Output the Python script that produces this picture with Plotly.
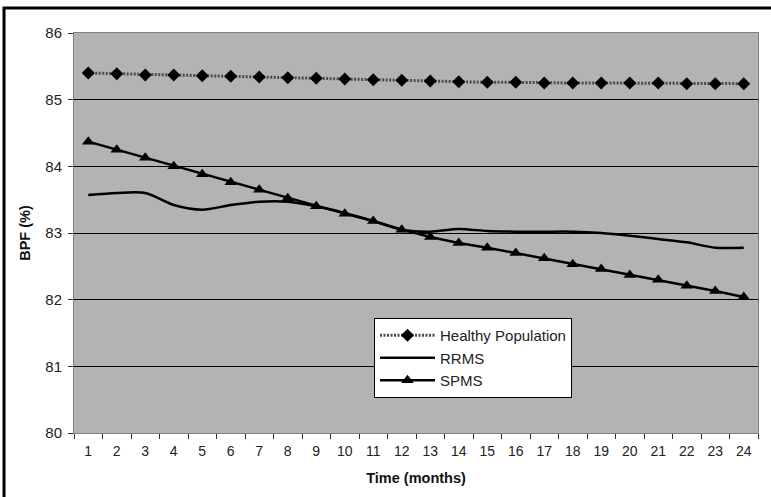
import plotly.graph_objects as go

months = [str(i) for i in range(1, 25)]
healthy = [85.40, 85.39, 85.37, 85.37, 85.36, 85.35, 85.34, 85.33, 85.32, 85.31, 85.30, 85.29,
           85.28, 85.27, 85.26, 85.26, 85.25, 85.25, 85.25, 85.25, 85.25, 85.24, 85.24, 85.24]
rrms = [83.57, 83.60, 83.60, 83.42, 83.35, 83.42, 83.47, 83.47, 83.40, 83.30, 83.18, 83.05,
        83.02, 83.06, 83.03, 83.02, 83.02, 83.02, 83.00, 82.96, 82.91, 82.86, 82.78, 82.78]
spms = [84.37, 84.25, 84.13, 84.00, 83.88, 83.76, 83.65, 83.52, 83.40, 83.29, 83.18, 83.05,
        82.94, 82.85, 82.78, 82.70, 82.62, 82.53, 82.46, 82.37, 82.30, 82.21, 82.13, 82.04]
yticks = [80, 81, 82, 83, 84, 85, 86]

FONT = "Liberation Sans, Arial, sans-serif"

fig = go.Figure()
fig.add_trace(go.Scatter(
    x=months, y=healthy, name="Healthy Population", mode="lines+markers",
    line=dict(color="#4a4a4a", width=3, dash="2px,1.5px"),
    marker=dict(symbol="diamond", size=10, color="black"),
))
fig.add_trace(go.Scatter(
    x=months, y=rrms, name="RRMS", mode="lines",
    line=dict(color="black", width=2.5, shape="spline", smoothing=0.8),
))
fig.add_trace(go.Scatter(
    x=months, y=spms, name="SPMS", mode="lines+markers",
    line=dict(color="black", width=2.5),
    marker=dict(symbol="triangle-up", size=11, color="black"),
))

fig.update_layout(
    width=771, height=497,
    margin=dict(l=74, r=13, t=33, b=64),
    paper_bgcolor="white", plot_bgcolor="#b3b3b3",
    font=dict(family=FONT, size=14, color="#222"),
    showlegend=True,
    legend=dict(x=0.4386, y=0.2875, xanchor="left", yanchor="top",
                bgcolor="white", bordercolor="black", borderwidth=1,
                font=dict(family=FONT, size=15, color="#222"),
                tracegroupgap=0, itemwidth=55),
    xaxis=dict(type="category", tickson="boundaries", ticks="outside", ticklen=5,
               range=[-0.5, 23.5], ticklabelstandoff=5,
               tickcolor="#333", showgrid=False, showline=True, linecolor="#808080",
               mirror=True, linewidth=1,
               title=dict(text="<b>Time (months)</b>", font=dict(size=14.5, color="#111"), standoff=15),
               tickfont=dict(size=14, color="#222")),
    yaxis=dict(range=[80, 86], tickvals=yticks, ticks="outside", ticklen=5, tickcolor="#333",
               ticklabelstandoff=3,
               showgrid=True, gridcolor="black", gridwidth=1, zeroline=False,
               showline=True, linecolor="#808080", mirror=True, linewidth=1,
               title=dict(text="<b>BPF (%)</b>", font=dict(size=14.5, color="#111"), standoff=11),
               tickfont=dict(size=15, color="#222")),
)

fig.add_shape(type="rect", xref="paper", yref="paper",
              x0=-0.1023, x1=1.05, y0=-0.25, y1=1.0625,
              line=dict(color="black", width=3), layer="above")

fig.write_html("out.html", config={"displayModeBar": False},
               post_script="document.body.style.margin='0';")
